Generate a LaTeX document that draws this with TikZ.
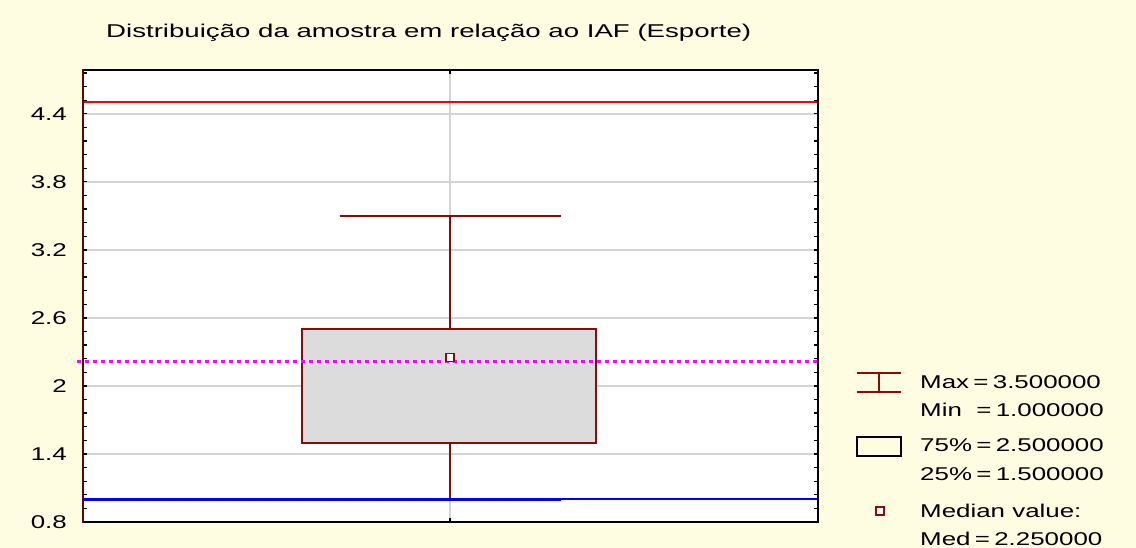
\documentclass[tikz,border=0pt]{standalone}
\usepackage{fontspec}
\setmainfont{Liberation Sans}
\usepackage{graphicx}
\definecolor{bgy}{HTML}{FFFDE1}
\definecolor{dred}{HTML}{8B0A0A}
\definecolor{gridg}{HTML}{D4D4D4}
\definecolor{boxg}{HTML}{DCDCDC}
\definecolor{mag}{HTML}{FF00FF}
\newcommand\py[1]{{522-(#1-0.8)*113.4}}
\newcommand\sx[1]{\scalebox{1.4}[1]{#1}}
\tikzset{
  lbl/.style={font=\fontsize{18.5}{20}\selectfont, inner sep=0pt},
  grid line/.style={gridg, line width=1.8pt},
  whisk/.style={dred, line width=2pt},
}
\begin{document}
\begin{tikzpicture}[x=1pt,y=-1pt]
\fill[bgy] (0,0) rectangle (1136,548);
\useasboundingbox (0,0) rectangle (1136,548);
% plot area
\fill[white] (83,70) rectangle (818,522);
% grid
\foreach \v in {1.4,2.0,2.6,3.2,3.8,4.4} {
  \draw[grid line] (84,\py{\v}) -- (817,\py{\v});
}
\draw[grid line] (450,71) -- (450,521);
% reference lines
\draw[red, line width=2pt] (84,\py{4.5}) -- (817,\py{4.5});
% whisker
\draw[whisk] (340,\py{3.5}) -- (561,\py{3.5});
\draw[whisk] (450,\py{3.5}) -- (450,\py{2.5});
\draw[whisk] (450,\py{1.5}) -- (450,\py{1.0});
\draw[blue, line width=2.4pt] (84,\py{1.0}) -- (561,\py{1.0});
\draw[blue, line width=1.8pt] (561,\py{1.0}) -- (817,\py{1.0});
% box
\draw[dred, line width=2pt, fill=boxg] (302,\py{2.5}) rectangle (596,\py{1.5});
% mean line
\draw[mag, line width=3pt, dash pattern=on 4pt off 4pt] (77,\py{2.214}) -- (818,\py{2.214});
% median
\draw[dred, line width=1.8pt, fill=white] (446,{522-(2.25-0.8)*113.4-4}) rectangle (454,{522-(2.25-0.8)*113.4+4});
% frame
\draw[black, line width=2pt] (83,70) -- (818,70) -- (818,522) -- (83,522);
\draw[dred!70!black, line width=2pt] (83,69) -- (83,523);
% minor ticks
\foreach \i in {1,...,33} {
  \draw[black, line width=1.3pt] (83,{522-\i*0.12*113.4}) -- (87,{522-\i*0.12*113.4});
  \draw[black, line width=1.3pt] (818,{522-\i*0.12*113.4}) -- (814,{522-\i*0.12*113.4});
}
\draw[black, line width=1.3pt] (450,522) -- (450,518);
\draw[black, line width=1.3pt] (450,70) -- (450,74);
% tick labels
\foreach \v/\t [count=\k] in {0.8/0.8,1.4/1.4,2.0/2,2.6/2.6,3.2/3.2,3.8/3.8,4.4/4.4} {
  \node[lbl, anchor=east] (yl\k) at (67,\py{\v}) {\sx{\t}};
}
% title
\node[lbl, anchor=base west] (title) at (106,37.7) {\resizebox{645pt}{!}{\scalebox{1}[0.67]{Distribuição da amostra em relação ao IAF (Esporte)}}};
% legend
\draw[dred, line width=1.6pt] (857,373) -- (901,373);
\draw[dred, line width=1.6pt] (857,392) -- (901,392);
\draw[dred, line width=1.6pt] (879,373) -- (879,392);
\draw[black, line width=1.6pt] (857,437) rectangle (901,456);
\draw[dred, line width=1.8pt, fill=white] (876,507) rectangle (884,515);
\node[lbl, anchor=west] (lmax) at (920,382) {\sx{Max\,=\,3.500000}};
\node[lbl, anchor=west] (lmin) at (920,410) {\sx{Min\ \ =\,1.000000}};
\node[lbl, anchor=west] (l75) at (920,445.5) {\sx{75\%\,=\,2.500000}};
\node[lbl, anchor=west] (l25) at (920,474.5) {\sx{25\%\,=\,1.500000}};
\node[lbl, anchor=west] (lmv) at (920,511) {\sx{Median value:}};
\node[lbl, anchor=west] (lmed) at (920,538.5) {\sx{Med\,=\,2.250000}};
\end{tikzpicture}
\end{document}
